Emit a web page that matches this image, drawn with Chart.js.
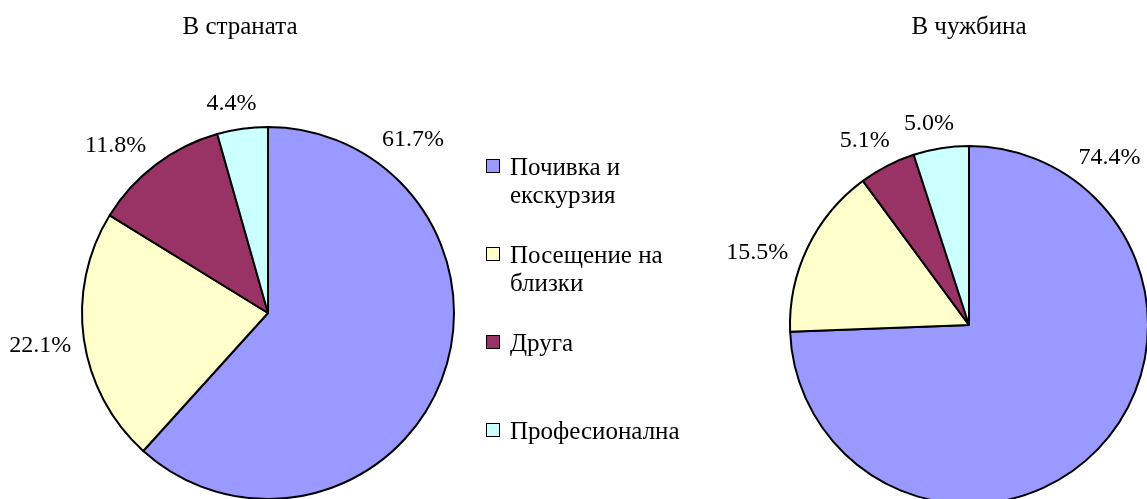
<!DOCTYPE html>
<html>
<head>
<meta charset="utf-8">
<script src="https://cdn.jsdelivr.net/npm/chart.js@4.4.0/dist/chart.umd.min.js"></script>
<style>
  html, body { margin:0; padding:0; background:#fff; overflow:hidden; width:1147px; height:499px; }
  canvas { position:absolute; }
  #legend { position:absolute; left:486px; top:0; font-family:"Liberation Serif","DejaVu Serif",serif; font-size:25px; color:#000; }
  .item { position:absolute; left:0; width:230px; line-height:28px; }
  .box { position:absolute; left:0; top:6px; width:12px; height:12px; border:1.5px solid #000; }
  .txt { margin-left:24px; width:195px; }
</style>
</head>
<body>
<canvas id="home" width="480" height="499" style="left:0;top:0"></canvas>
<canvas id="abroad" width="600" height="520" style="left:560px;top:0"></canvas>
<div id="legend"></div>
<script>
// data
const categories = ['Почивка и екскурзия', 'Посещение на близки', 'Друга', 'Професионална'];
const homeValues = [61.7, 22.1, 11.8, 4.4];
const abroadValues = [74.4, 15.5, 5.1, 5.0];
const titles = ['В страната', 'В чужбина'];
const colors = ['#9999FF', '#FFFFCC', '#993366', '#CCFFFF'];

const FONT = '"Liberation Serif", "DejaVu Serif", serif';

// percent labels outside the pie + title
const pieText = {
  id: 'pieText',
  afterDatasetsDraw(chart, args, opts) {
    const {ctx} = chart;
    const meta = chart.getDatasetMeta(0);
    const data = chart.data.datasets[0].data;
    ctx.save();
    ctx.fillStyle = '#000';
    ctx.font = '24px ' + FONT;
    ctx.textAlign = 'center'; ctx.textBaseline = 'middle';
    meta.data.forEach((arc, i) => {
      const {x, y, startAngle, endAngle, outerRadius} = arc.getProps(['x','y','startAngle','endAngle','outerRadius'], true);
      const mid = (startAngle + endAngle) / 2;
      let a = mid;
      // upper-left slices: excel puts the label a bit before the middle
      if (mid > Math.PI && mid < 1.5 * Math.PI) a = startAngle + 0.375 * (endAngle - startAngle);
      // big slices get their label near the start
      a = Math.min(a, startAngle + 40 * Math.PI / 180);
      const txt = data[i].toFixed(1) + '%';
      const w = ctx.measureText(txt).width, h = 20;
      const c = Math.cos(a), s = Math.sin(a);
      const d = outerRadius + 12 + Math.abs(c) * w / 2 + Math.abs(s) * h / 2;
      ctx.fillText(txt, x + c * d, y + s * d);
    });
    ctx.font = '25px ' + FONT;
    ctx.textBaseline = 'alphabetic';
    ctx.fillText(opts.text, opts.x, 34);
    ctx.restore();
  }
};

function makePie(id, values, title, titleX, pad, radius) {
  return new Chart(document.getElementById(id), {
    type: 'pie',
    data: {
      labels: categories,
      datasets: [{ data: values, backgroundColor: colors, borderColor: '#000', borderWidth: 2, clip: false }]
    },
    options: {
      responsive: false, animation: false, radius: radius,
      layout: { padding: pad },
      plugins: { legend: { display: false }, tooltip: { enabled: false }, pieText: { text: title, x: titleX } }
    },
    plugins: [pieText]
  });
}

makePie('home', homeValues, titles[0], 240, {left:82, top:127, right:26, bottom:0}, 186);
makePie('abroad', abroadValues, titles[1], 409, {left:230, top:146, right:12, bottom:16}, 179);

// legend
const lg = document.getElementById('legend');
categories.forEach((c, i) => {
  const el = document.createElement('div');
  el.className = 'item';
  el.style.top = (153 + i * 88) + 'px';
  el.innerHTML = '<div class="box" style="background:' + colors[i] + '"></div><div class="txt">' + c + '</div>';
  lg.appendChild(el);
});
</script>
</body>
</html>
